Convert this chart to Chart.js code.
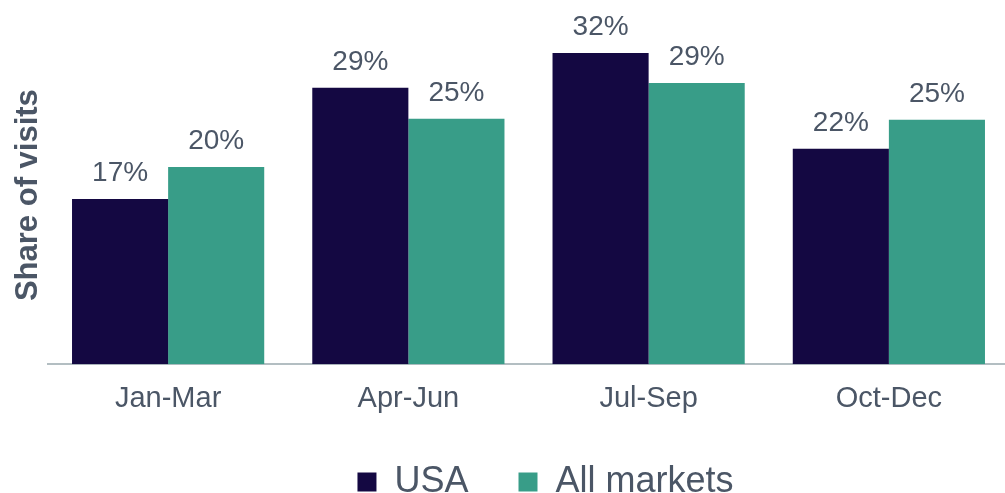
<!DOCTYPE html>
<html>
<head>
<meta charset="utf-8">
<script src="https://cdn.jsdelivr.net/npm/chart.js@4"></script>
<style>
html,body{margin:0;padding:0;background:#fff;overflow:hidden;}
#wrap{width:1005px;height:493px;position:relative;overflow:hidden;}
</style>
</head>
<body>
<div id="wrap"><canvas id="c" width="1009" height="493"></canvas></div>
<script>
const categories = ['Jan-Mar', 'Apr-Jun', 'Jul-Sep', 'Oct-Dec'];
const usaValues = [17.1, 28.6, 32.2, 22.3];
const allMarketsValues = [20.4, 25.4, 29.1, 25.3];
const seriesNames = ['USA', 'All markets'];
const yTitle = 'Share of visits';

const TEXT = '#4b5666';
const FONT = "'Liberation Sans', Arial, sans-serif";

const labelPlugin = {
  id: 'barLabels',
  afterDatasetsDraw(chart) {
    const ctx = chart.ctx;
    ctx.save();
    ctx.font = '28px ' + FONT;
    ctx.fillStyle = TEXT;
    ctx.textAlign = 'center';
    ctx.textBaseline = 'alphabetic';
    chart.data.datasets.forEach((ds, i) => {
      chart.getDatasetMeta(i).data.forEach((bar, j) => {
        ctx.fillText(Math.round(ds.data[j]) + '%', bar.x, bar.y - 18);
      });
    });
    ctx.restore();
  }
};

const legendShift = {
  id: 'legendShift',
  afterLayout(chart) {
    chart.legend.left += 38;
    chart.legend.right += 38;
    chart.legend.top += 21;
    chart.legend.bottom += 21;
  }
};

new Chart(document.getElementById('c'), {
  type: 'bar',
  data: {
    labels: categories,
    datasets: [
      { label: seriesNames[0], data: usaValues, backgroundColor: '#140842' },
      { label: seriesNames[1], data: allMarketsValues, backgroundColor: '#389d88' }
    ]
  },
  options: {
    responsive: false,
    animation: false,
    layout: { padding: { left: 6, right: 0, top: 26, bottom: 4 } },
    datasets: { bar: { categoryPercentage: 0.8, barPercentage: 1.0 } },
    scales: {
      x: {
        grid: { display: false, drawTicks: false },
        border: { display: true, color: '#b3bec2', width: 2 },
        ticks: { color: TEXT, font: { family: FONT, size: 29 }, padding: 17 }
      },
      y: {
        min: 0, max: 35,
        grid: { display: false, drawTicks: false },
        border: { display: false },
        ticks: { display: false },
        title: { display: true, text: yTitle, color: TEXT, font: { family: FONT, size: 31, weight: 'bold' }, padding: { top: 4, bottom: 0 } },
        afterFit(scale) { scale.width = 42; }
      }
    },
    plugins: {
      tooltip: { enabled: false },
      legend: {
        position: 'bottom',
        labels: {
          color: TEXT,
          font: { family: FONT, size: 36 },
          boxWidth: 19,
          boxHeight: 19,
          padding: 10,
          generateLabels(chart) {
            const items = Chart.defaults.plugins.legend.labels.generateLabels(chart);
            items.forEach((it, i) => { if (i === 0) it.text = it.text + '    '; it.lineWidth = 0; });
            return items;
          }
        }
      }
    }
  },
  plugins: [labelPlugin, legendShift]
});
</script>
</body>
</html>
